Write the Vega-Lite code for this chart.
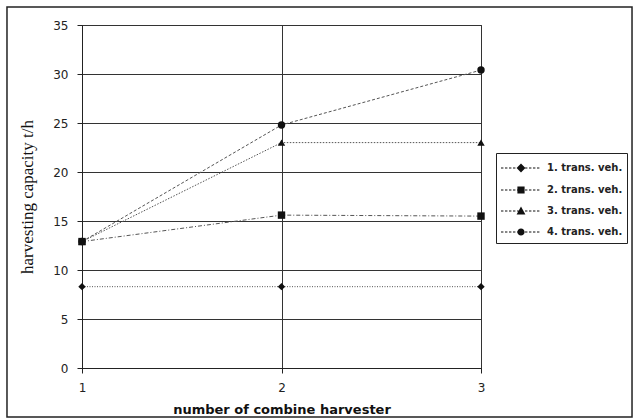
{
  "$schema": "https://vega.github.io/schema/vega-lite/v6.json",
  "width": 399,
  "height": 343,
  "autosize": "none",
  "padding": {"left": 82, "top": 25, "right": 152, "bottom": 51},
  "background": "white",
  "config": {
    "view": {"stroke": "#222", "strokeWidth": 1},
    "axis": {
      "domainColor": "#222", "tickColor": "#222", "gridColor": "#333", "gridWidth": 1,
      "labelColor": "#222", "titleColor": "#111"
    },
    "axisX": {
      "tickSize": 5, "labelPadding": 9,
      "labelFont": "DejaVu Sans", "labelFontSize": 12, "labelFlush": false,
      "titleFont": "DejaVu Sans", "titleFontSize": 13, "titleFontWeight": "bold", "titlePadding": 10
    },
    "axisY": {
      "tickSize": 5, "labelPadding": 9,
      "labelFont": "DejaVu Sans", "labelFontSize": 12,
      "titleFont": "Liberation Serif", "titleFontSize": 17, "titleFontWeight": "normal", "titlePadding": 16
    }
  },
  "data": {
    "values": [
      {"n": 1, "s": "1. trans. veh.", "v": 8.3},
      {"n": 2, "s": "1. trans. veh.", "v": 8.3},
      {"n": 3, "s": "1. trans. veh.", "v": 8.3},
      {"n": 1, "s": "2. trans. veh.", "v": 12.9},
      {"n": 2, "s": "2. trans. veh.", "v": 15.6},
      {"n": 3, "s": "2. trans. veh.", "v": 15.5},
      {"n": 1, "s": "3. trans. veh.", "v": 12.9},
      {"n": 2, "s": "3. trans. veh.", "v": 23.0},
      {"n": 3, "s": "3. trans. veh.", "v": 23.0},
      {"n": 1, "s": "4. trans. veh.", "v": 12.9},
      {"n": 2, "s": "4. trans. veh.", "v": 24.8},
      {"n": 3, "s": "4. trans. veh.", "v": 30.4}
    ]
  },
  "layer": [
    {
      "encoding": {
        "x": {
          "field": "n", "type": "quantitative",
          "scale": {"domain": [1, 3], "nice": false},
          "axis": {"title": "number of combine harvester", "tickCount": 2, "format": "d"}
        },
        "y": {
          "field": "v", "type": "quantitative",
          "scale": {"domain": [0, 35], "nice": false},
          "axis": {"title": "harvesting capacity  t/h", "tickCount": 7}
        }
      },
      "layer": [
        {
          "mark": {"type": "line", "color": "#555", "strokeWidth": 1},
          "encoding": {
            "detail": {"field": "s"},
            "strokeDash": {
              "field": "s", "type": "nominal",
              "scale": {"range": [[1, 1.5], [4, 2, 1, 2], [1.5, 1.5], [3, 2]]},
              "legend": null
            }
          }
        },
        {
          "transform": [{"filter": "datum.s === '1. trans. veh.'"}],
          "mark": {"type": "point", "filled": true, "color": "#111", "opacity": 1, "size": 55, "shape": "diamond"}
        },
        {
          "transform": [{"filter": "datum.s === '2. trans. veh.'"}],
          "mark": {"type": "point", "filled": true, "color": "#111", "opacity": 1, "size": 55, "shape": "square"}
        },
        {
          "transform": [{"filter": "datum.s === '3. trans. veh.'"}],
          "mark": {"type": "point", "filled": true, "color": "#111", "opacity": 1, "size": 55, "shape": "triangle-up"}
        },
        {
          "transform": [{"filter": "datum.s === '4. trans. veh.'"}],
          "mark": {"type": "point", "filled": true, "color": "#111", "opacity": 1, "size": 55, "shape": "circle"}
        },
        {
          "mark": {"type": "point", "filled": true, "color": "#111", "opacity": 0},
          "encoding": {
            "shape": {
              "field": "s", "type": "nominal",
              "scale": {"range": [
                "M-1,-0.04h0.24v0.08h-0.24ZM-0.6,-0.04h0.24v0.08h-0.24ZM-0.2,-0.04h0.24v0.08h-0.24ZM0.2,-0.04h0.24v0.08h-0.24ZM0.6,-0.04h0.24v0.08h-0.24ZM1,-0.04h0.24v0.08h-0.24ZM1.4,-0.04h0.24v0.08h-0.24ZM1.8,-0.04h0.24v0.08h-0.24ZM2.2,-0.04h0.24v0.08h-0.24ZM2.6,-0.04h0.24v0.08h-0.24ZM1,-0.44L1.44,0L1,0.44L0.56,0Z",
                "M-1,-0.04h0.24v0.08h-0.24ZM-0.6,-0.04h0.24v0.08h-0.24ZM-0.2,-0.04h0.24v0.08h-0.24ZM0.2,-0.04h0.24v0.08h-0.24ZM0.6,-0.04h0.24v0.08h-0.24ZM1,-0.04h0.24v0.08h-0.24ZM1.4,-0.04h0.24v0.08h-0.24ZM1.8,-0.04h0.24v0.08h-0.24ZM2.2,-0.04h0.24v0.08h-0.24ZM2.6,-0.04h0.24v0.08h-0.24ZM0.64,-0.36H1.36V0.36H0.64Z",
                "M-1,-0.04h0.24v0.08h-0.24ZM-0.6,-0.04h0.24v0.08h-0.24ZM-0.2,-0.04h0.24v0.08h-0.24ZM0.2,-0.04h0.24v0.08h-0.24ZM0.6,-0.04h0.24v0.08h-0.24ZM1,-0.04h0.24v0.08h-0.24ZM1.4,-0.04h0.24v0.08h-0.24ZM1.8,-0.04h0.24v0.08h-0.24ZM2.2,-0.04h0.24v0.08h-0.24ZM2.6,-0.04h0.24v0.08h-0.24ZM1,-0.44L1.44,0.34H0.56Z",
                "M-1,-0.04h0.24v0.08h-0.24ZM-0.6,-0.04h0.24v0.08h-0.24ZM-0.2,-0.04h0.24v0.08h-0.24ZM0.2,-0.04h0.24v0.08h-0.24ZM0.6,-0.04h0.24v0.08h-0.24ZM1,-0.04h0.24v0.08h-0.24ZM1.4,-0.04h0.24v0.08h-0.24ZM1.8,-0.04h0.24v0.08h-0.24ZM2.2,-0.04h0.24v0.08h-0.24ZM2.6,-0.04h0.24v0.08h-0.24ZM0.64,0A0.36,0.36,0,1,1,1.36,0A0.36,0.36,0,1,1,0.64,0Z"
              ]},
              "legend": {
                "title": null, "orient": "none", "legendX": 414, "legendY": 128,
                "strokeColor": "#222", "fillColor": "white", "padding": 4,
                "symbolSize": 400, "symbolOpacity": 1, "symbolFillColor": "#111",
                "labelFont": "DejaVu Sans", "labelFontSize": 10, "labelFontWeight": "bold",
                "labelColor": "#222", "rowPadding": 3, "labelOffset": 25
              }
            }
          }
        }
      ]
    },
    {
      "data": {"values": [{"x0": 0.624, "x1": 3.757, "y0": 36.84, "y1": -5.0}]},
      "mark": {"type": "rect", "fill": "white", "fillOpacity": 0, "stroke": "#222", "strokeWidth": 1.5, "clip": false},
      "encoding": {
        "x": {"field": "x0", "type": "quantitative", "scale": {"domain": [1, 3], "nice": false}, "axis": {"title": "number of combine harvester", "tickCount": 2, "format": "d"}},
        "x2": {"field": "x1"},
        "y": {"field": "y0", "type": "quantitative", "scale": {"domain": [0, 35], "nice": false}, "axis": {"title": "harvesting capacity  t/h", "tickCount": 7}},
        "y2": {"field": "y1"}
      }
    }
  ]
}
